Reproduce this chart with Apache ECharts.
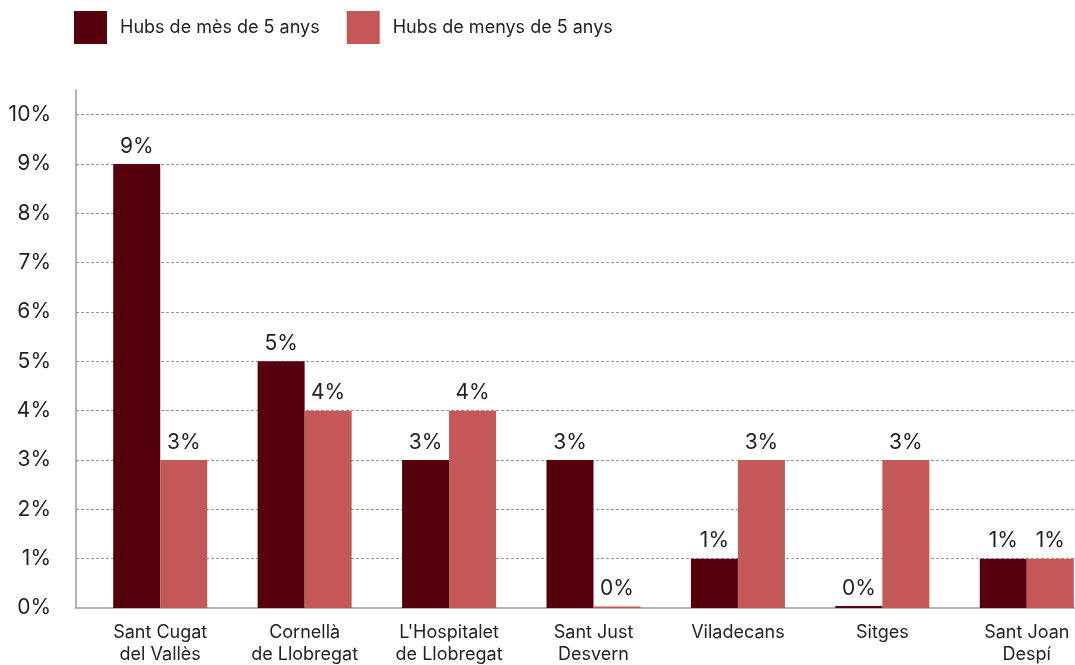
<!DOCTYPE html>
<html>
<head>
<meta charset="utf-8">
<script src="https://cdn.jsdelivr.net/npm/echarts@6/dist/echarts.min.js"></script>
<style>
  html, body { margin: 0; padding: 0; background: #fff; }
  #chart { width: 1075px; height: 665px; }
</style>
</head>
<body>
<div id="chart"></div>
<script>
// categories (x axis)
const municipis = ['Sant Cugat\ndel Vallès', 'Cornellà\nde Llobregat', "L'Hospitalet\nde Llobregat",
  'Sant Just\nDesvern', 'Viladecans', 'Sitges', 'Sant Joan\nDespí'];
// series values, in %
const hubsMes5 = [9, 5, 3, 3, 1, 0.04, 1];
const hubsMenys5 = [3, 4, 4, 0.03, 3, 3, 1];
const serieNames = ['Hubs de mès de 5 anys', 'Hubs de menys de 5 anys'];
const colors = ['#55000c', '#c45757'];

const font = 'Inter, Roboto, sans-serif';
const chart = echarts.init(document.getElementById('chart'));

// etiqueta de barra, arrodonida
const barLabel = {
  show: true,
  position: 'top',
  distance: 7,
  color: '#222',
  fontSize: 21,
  fontFamily: font,
  formatter: (p) => Math.round(p.value) + '%'
};

const option = {
  animation: false,
  color: colors,
  legend: {
    left: 74,
    top: 11,
    padding: 0,
    itemWidth: 33,
    itemHeight: 33,
    itemGap: 27,
    icon: 'rect',
    selectedMode: false,
    textStyle: { fontSize: 18, color: '#222', fontFamily: font, padding: [0, 0, 0, 8] },
    data: serieNames
  },
  // grid 0: eixos i línies de guia; grid 1: barres (s'estén més enllà de la vora dreta)
  grid: [
    { left: 76, right: 0, top: 90, bottom: 57, outerBoundsMode: 'none', containLabel: false },
    { left: 88, top: 90, width: 1011, bottom: 57, outerBoundsMode: 'none', containLabel: false }
  ],
  xAxis: [
    {
      gridIndex: 0,
      type: 'value',
      min: 0,
      max: 1,
      axisLine: { show: true, onZero: false, lineStyle: { color: '#999', width: 1.5 } },
      axisTick: { show: false },
      axisLabel: { show: false },
      splitLine: { show: false }
    },
    {
      gridIndex: 1,
      type: 'category',
      data: municipis,
      axisLine: { show: false },
      axisTick: { show: false },
      axisLabel: { color: '#222', fontSize: 18, fontFamily: font, lineHeight: 22, margin: 14, interval: 0 }
    }
  ],
  yAxis: [
    {
      gridIndex: 0,
      type: 'value',
      min: 0,
      max: 10.5,
      interval: 1,
      axisLine: { show: true, lineStyle: { color: '#999', width: 1.5 } },
      axisTick: { show: false },
      axisLabel: {
        color: '#222', fontSize: 21, fontFamily: font, margin: 25,
        showMaxLabel: false,
        formatter: (v) => (v % 1 === 0 ? v + '%' : '')
      },
      splitLine: {
        show: true,
        showMinLine: false,
        showMaxLine: false,
        lineStyle: { color: '#999', type: [3, 2], width: 1 }
      }
    },
    {
      gridIndex: 1,
      type: 'value',
      min: 0,
      max: 10.5,
      show: false
    }
  ],
  series: [
    { name: serieNames[0], type: 'bar', xAxisIndex: 1, yAxisIndex: 1, data: hubsMes5, barWidth: 47, barGap: '0%', label: barLabel },
    { name: serieNames[1], type: 'bar', xAxisIndex: 1, yAxisIndex: 1, data: hubsMenys5, barWidth: 47, barGap: '0%', label: barLabel }
  ]
};

chart.setOption(option);
</script>
</body>
</html>
